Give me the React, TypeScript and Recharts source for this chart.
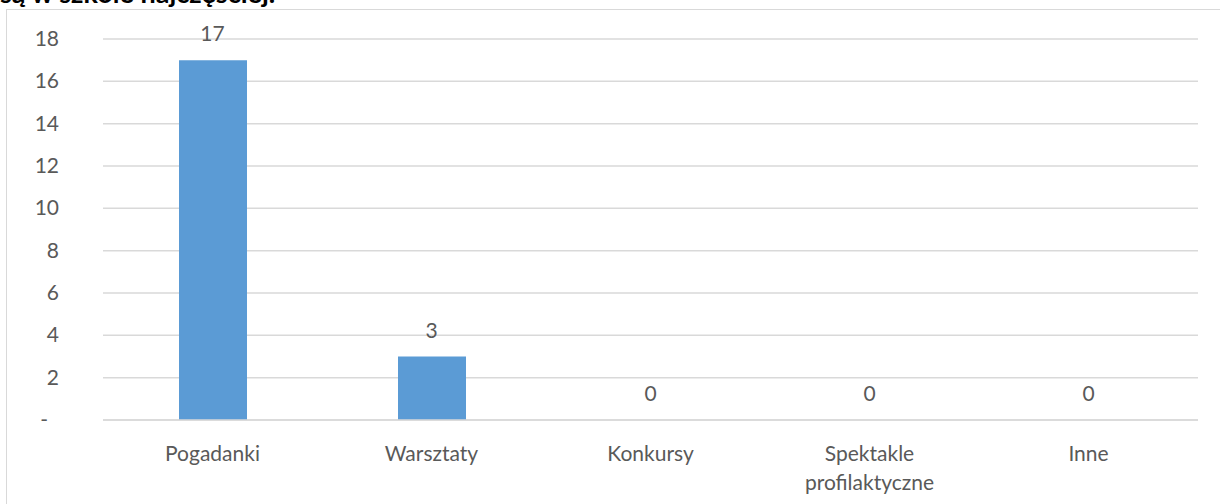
import { ComposedChart, Bar, Line, XAxis, YAxis, CartesianGrid, LabelList } from 'recharts';

const categories = ['Pogadanki', 'Warsztaty', 'Konkursy', 'Spektakle\nprofilaktyczne', 'Inne'];
const counts = [17, 3, 0, 0, 0];
const yTicks = [0, 2, 4, 6, 8, 10, 12, 14, 16, 18];

const data = categories.map((name, i) => ({ name, value: counts[i] }));

const FONT = 'Lato, "Open Sans", sans-serif';
const GREY = '#595959';

function YTick(props: any) {
  const { x, y, payload } = props;
  const v = payload.value;
  return (
    <text x={v === 0 ? x - 11 : x} y={y} dy={7} textAnchor="end" fill={GREY} fontSize={21} fontFamily={FONT}>
      {v === 0 ? '-' : v}
    </text>
  );
}

function XTick(props: any) {
  const { x, y, payload } = props;
  const lines = String(payload.value).split('\n');
  return (
    <g>
      {lines.map((l, i) => (
        <text key={i} x={x} y={y + 15 + i * 29} textAnchor="middle" fill={GREY} fontSize={21} fontFamily={FONT}>
          {l}
        </text>
      ))}
    </g>
  );
}

export default function App() {
  return (
    <div style={{ position: 'absolute', left: 0, top: 0, width: 1220, height: 504, overflow: 'hidden', background: '#fff' }}>
      {/* heading from the page above, only its lower edge is visible */}
      <div style={{ position: 'absolute', left: 0, top: 0, width: 600, height: 8, overflow: 'hidden' }}>
        <div style={{ position: 'absolute', left: 0, top: -21, fontFamily: FONT, fontSize: 27, fontWeight: 700, lineHeight: '27px', color: '#000', whiteSpace: 'nowrap' }}>
          są w szkole najczęściej.
        </div>
      </div>
      <div style={{ position: 'absolute', left: 6, top: 9, width: 1220, height: 500, border: '1.5px solid #d9d9d9', boxSizing: 'border-box' }} />
      <div style={{ position: 'absolute', left: 0, top: 0 }}>
        <ComposedChart width={1220} height={504} data={data} margin={{ top: 39, right: 22, bottom: 23, left: 0 }} barSize={68}>
          <CartesianGrid vertical={false} stroke="#d9d9d9" strokeWidth={1.5} />
          <XAxis
            dataKey="name"
            height={61}
            axisLine={{ stroke: '#d9d9d9', strokeWidth: 1.5 }}
            tickLine={false}
            tickSize={0}
            tickMargin={26}
            tick={<XTick />}
            interval={0}
          />
          <YAxis
            width={103}
            domain={[0, 18]}
            ticks={yTicks}
            axisLine={false}
            tickLine={false}
            tickSize={0}
            tickMargin={44}
            tick={<YTick />}
            interval={0}
          />
          <Bar dataKey="value" fill="#5b9bd5" isAnimationActive={false} />
          {/* invisible line only to carry the value labels (zero bars get none) */}
          <Line dataKey="value" stroke="none" dot={false} activeDot={false} isAnimationActive={false}>
            <LabelList dataKey="value" position="top" offset={19} fill={GREY} fontSize={21} fontFamily={FONT} />
          </Line>
        </ComposedChart>
      </div>
    </div>
  );
}
